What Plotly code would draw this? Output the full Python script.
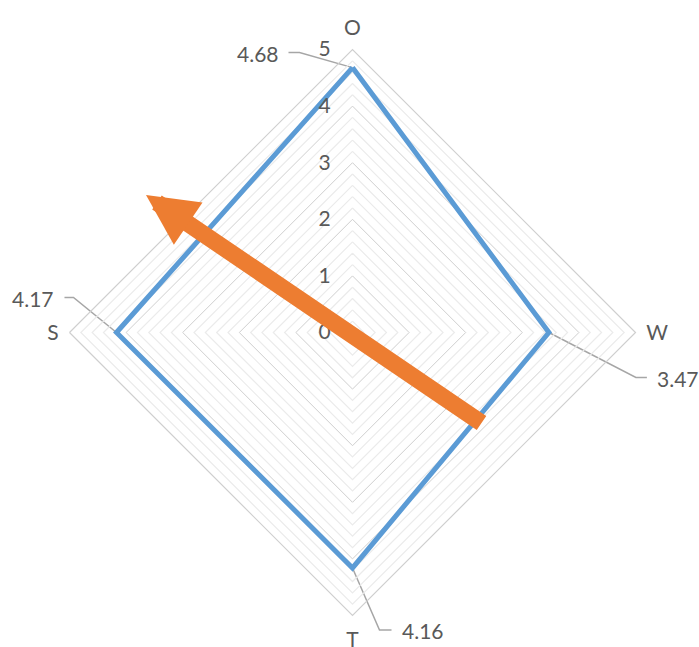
import plotly.graph_objects as go
import numpy as np

# ---- data ----
categories = ["O", "W", "T", "S"]
values = [4.68, 3.47, 4.16, 4.17]
value_labels = ["4.68", "3.47", "4.16", "4.17"]
major_ticks = [0, 1, 2, 3, 4, 5]
minor_step = 0.2
r_max = 5

# ---- style ----
W, H = 699, 647
cx, cy, rad = 352.5, 332.5, 283.0   # pixel centre / radius of polar area
TXT = "#595959"
MAJOR = "#cfcfcf"
MINOR = "#ebebeb"
BLUE = "#5B9BD5"
ORANGE = "#ED7D31"
LEADER = "#a6a6a6"
FONT = "Lato"
FS = 21

dom_x = [(cx - rad) / W, (cx + rad) / W]
dom_y = [1 - (cy + rad) / H, 1 - (cy - rad) / H]
u = r_max / rad  # data units per pixel

fig = go.Figure()

# minor grid rings
closed_theta = categories + [categories[0]]
minor_vals = [round(v, 2) for v in np.arange(minor_step, r_max, minor_step)
              if abs(v - round(v)) > 1e-6]
for mv in minor_vals:
    fig.add_trace(go.Scatterpolar(
        r=[mv] * len(closed_theta), theta=closed_theta, mode="lines",
        line=dict(color=MINOR, width=1.2), hoverinfo="skip", showlegend=False))

# data series
fig.add_trace(go.Scatterpolar(
    r=values + [values[0]], theta=closed_theta, mode="lines",
    line=dict(color=BLUE, width=5), showlegend=False))

# leader lines + data labels (on an invisible full-page cartesian overlay
# that shares the polar scale)
leader_style = {
    "O": (-53, -15, -11),
    "W": (87, 45, 11),
    "T": (27, 62, 12),
    "S": (-43, -35, -9),
}
angles = {c: np.pi / 2 - i * np.pi / 2 for i, c in enumerate(categories)}
for c, v, lab in zip(categories, values, value_labels):
    px, py = v * np.cos(angles[c]), v * np.sin(angles[c])
    dx1, dy1, dx2 = leader_style[c]
    ex, ey = px + dx1 * u, py - dy1 * u
    fx = ex + dx2 * u
    fig.add_trace(go.Scatter(
        x=[px, ex, fx], y=[py, ey, ey], mode="lines",
        line=dict(color=LEADER, width=1.5), hoverinfo="skip",
        showlegend=False, xaxis="x", yaxis="y", cliponaxis=False))
    fig.add_annotation(
        x=fx, y=ey, xref="x", yref="y", text=lab, showarrow=False,
        xanchor="left" if dx2 > 0 else "right",
        xshift=8 if dx2 > 0 else -8, yshift=-1,
        font=dict(family=FONT, size=FS, color=TXT))

# orange arrow decoration (tip, with tail offset in pixels)
fig.add_annotation(
    x=146 / W, y=1 - 195 / H, xref="paper", yref="paper",
    ax=337, ay=229, axref="pixel", ayref="pixel",
    text="", showarrow=True, arrowhead=2, arrowsize=0.6,
    arrowwidth=17, arrowcolor=ORANGE, standoff=0, startstandoff=0)

fig.update_layout(
    width=W, height=H,
    margin=dict(l=0, r=0, t=0, b=0),
    paper_bgcolor="white", plot_bgcolor="rgba(0,0,0,0)",
    showlegend=False,
    polar=dict(
        domain=dict(x=dom_x, y=dom_y),
        bgcolor="rgba(0,0,0,0)",
        gridshape="linear",
        radialaxis=dict(
            range=[0, r_max], tickvals=major_ticks, angle=90, tickangle=90,
            showline=False, gridcolor=MAJOR, gridwidth=1.2,
            ticks="outside", ticklen=14, tickcolor="rgba(0,0,0,0)",
            tickfont=dict(family=FONT, size=FS, color=TXT),
            side="counterclockwise"),
        angularaxis=dict(
            categoryarray=categories, categoryorder="array",
            rotation=90, direction="clockwise",
            showgrid=False, showline=True, linecolor=MAJOR, linewidth=1.2,
            ticks="outside", ticklen=6, tickcolor="rgba(0,0,0,0)",
            tickfont=dict(family=FONT, size=FS, color=TXT)),
    ),
    xaxis=dict(domain=[0, 1], range=[(0 - cx) * u, (W - cx) * u],
               visible=False, fixedrange=True),
    yaxis=dict(domain=[0, 1], range=[(cy - H) * u, cy * u],
               visible=False, fixedrange=True),
)

fig.write_html("out.html", config={"displayModeBar": False},
               post_script="document.body.style.margin='0px';")
